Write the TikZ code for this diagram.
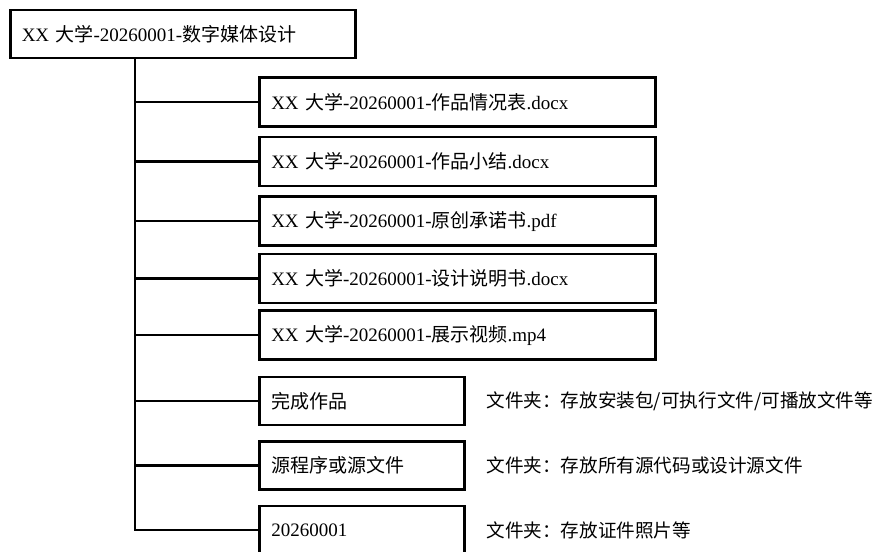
\documentclass[tikz,border=0pt]{standalone}
\usepackage{fontspec}
\setmainfont{Liberation Serif}
\newfontfamily\cjk{Noto Sans CJK SC}
\newcommand\zh[1]{{\cjk #1}}
\usetikzlibrary{positioning}

\tikzset{
  box/.style={draw,rectangle,line width=1.25pt,align=left,inner xsep=6pt,
    font=\fontsize{9.5}{11}\selectfont},
  filebox/.style={box,text width=186pt,minimum height=24.5pt},
  dirbox/.style={box,text width=90.5pt,minimum height=24pt},
  note/.style={font=\fontsize{9.3}{11}\selectfont},
  link/.style={line width=1.25pt}
}

\begin{document}
\begin{tikzpicture}
    \clip (0,0) rectangle (440pt,-276pt);
    \useasboundingbox (0,0) rectangle (440pt,-276pt);

    \node[box,text width=161pt,inner xsep=5.75pt,minimum height=24pt,anchor=west] (root) at (4.5pt,-17pt) {XX \zh{大学}-20260001-\zh{数字媒体设计}};

    % files
    \node[filebox,below right=8.5pt and 124.5pt of root.south west] (f1) {XX \zh{大学}-20260001-\zh{作品情况表}.docx};
    \node[filebox,below=4pt of f1] (f2) {XX \zh{大学}-20260001-\zh{作品小结}.docx};
    \node[filebox,below=4pt of f2] (f3) {XX \zh{大学}-20260001-\zh{原创承诺书}.pdf};
    \node[filebox,below=3pt of f3] (f4) {XX \zh{大学}-20260001-\zh{设计说明书}.docx};
    \node[filebox,below=2.5pt of f4] (f5) {XX \zh{大学}-20260001-\zh{展示视频}.mp4};

    % folders
    \node[dirbox,below=7.5pt of f5.south west,anchor=north west] (d1) {\zh{完成作品}};
    \node[dirbox,below=7pt of d1] (d2) {\zh{源程序或源文件}};
    \node[dirbox,below=7pt of d2] (d3) {20260001};

    \node[note,right=7pt of d1] (n1) {\zh{文件夹：存放安装包/可执行文件/可播放文件等}};
    \node[note,right=7pt of d2] (n2) {\zh{文件夹：存放所有源代码或设计源文件}};
    \node[note,right=7pt of d3] (n3) {\zh{文件夹：存放证件照片等}};

    % tree lines
    \coordinate[xshift=63pt] (top) at (root.south west);
    \draw[link] (top) |- (d3.west);
    \foreach \n in {f1,f2,f3,f4,f5,d1,d2}
      \draw[link] (top |- \n.west) -- (\n.west);

\end{tikzpicture}
\end{document}
